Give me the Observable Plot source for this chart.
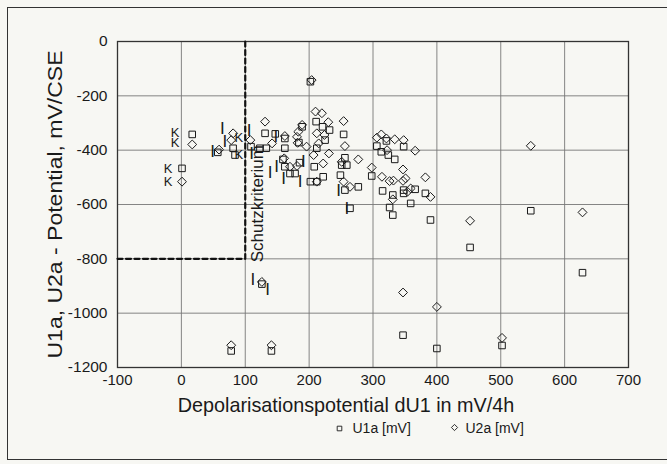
<!DOCTYPE html>
<html>
<head>
<meta charset="utf-8">
<script src="https://cdn.jsdelivr.net/npm/d3@7"></script>
<script src="https://cdn.jsdelivr.net/npm/@observablehq/plot@0.6"></script>
<style>
  html, body { margin: 0; padding: 0; background: #f7f7f3; }
  #wrap { position: relative; width: 667px; height: 464px; overflow: hidden; }
  #border { position: absolute; left: 7px; top: 7px; width: 700px; height: 453px;
            border: 1.5px solid #333; box-sizing: border-box; pointer-events: none; }
  svg { display: block; }
</style>
</head>
<body>
<div id="wrap"><div id="border"></div></div>
<script>
// ---- data ----
const xTicks = [-100, 0, 100, 200, 300, 400, 500, 600, 700];
const yTicks = [0, -200, -400, -600, -800, -1000, -1200];

// U1a [mV] (squares)
const u1aX = [17, 1, 57, 81, 84, 109, 131, 123, 133, 162, 162, 159, 162, 170, 178, 185, 184, 189, 202, 202,
              212, 208, 212, 211, 221, 232, 225, 222, 254, 256, 251, 259, 249, 256, 277, 264, 298, 306, 313, 321,
              324, 334, 348, 315, 331, 326, 331, 348, 348, 359, 366, 382, 390, 347, 400, 452, 502, 547, 628, 78,
              141, 126, 147];
const u1aY = [-342, -467, -408, -393, -418, -387, -338, -393, -393, -357, -393, -434, -461, -486, -486, -446, -372, -314, -148, -516,
              -516, -461, -393, -295, -314, -326, -363, -498, -342, -428, -455, -455, -492, -547, -535, -614, -495, -385, -406, -366,
              -418, -434, -387, -550, -565, -611, -639, -547, -559, -596, -544, -559, -657, -1081, -1130, -758, -1119, -623, -851, -1139,
              -1139, -893, -340];

// U2a [mV] (diamonds)
const u2aX = [17, 1, 81, 78, 59, 108, 131, 142, 162, 161, 170, 181, 182, 183, 189, 196, 204, 212, 207, 215,
              210, 220, 212, 230, 222, 231, 224, 254, 256, 251, 254, 264, 277, 298, 306, 313, 321, 322, 334, 348,
              366, 314, 326, 332, 331, 347, 351, 347, 354, 359, 382, 390, 347, 400, 452, 502, 547, 628, 78, 141,
              126, 181];
const u2aY = [-379, -516, -338, -363, -398, -363, -295, -375, -348, -430, -461, -458, -373, -332, -307, -387, -142, -516, -418, -375,
              -258, -264, -338, -297, -449, -412, -344, -293, -385, -443, -516, -535, -434, -464, -354, -342, -357, -400, -360, -363,
              -402, -498, -514, -512, -581, -471, -504, -513, -553, -541, -500, -572, -924, -977, -660, -1091, -384, -629, -1118, -1118,
              -885, -351];

// "K" annotations
const kX = [-10, -10, -21, -21, 90, 90];
const kY = [-337, -374, -470, -517, -355, -418];

// "I" annotations
const iX = [64, 49, 68, 106, 110, 148, 149, 139, 160, 186, 191, 246, 259, 112, 135];
const iY = [-320, -406, -369, -326, -412, -351, -461, -481, -504, -516, -443, -547, -614, -876, -913];

// Schutzkriterium boundary
const schutzX = [-100, 100, 100];
const schutzY = [-800, -800, 0];
const schutzLabel = [{x: 120, y: -597, text: "Schutzkriterium"}];

const xTitle = "Depolarisationspotential dU1 in mV/4h";
const yTitle = "U1a, U2a - Potential, mV/CSE";
const legendNames = ["U1a [mV]", "U2a [mV]"];

// ---- chart ----
const FONT = "'Liberation Sans', Arial, Helvetica, sans-serif";
const ink = "#1a1a1a";
const fmt = d => String(d);

const chart = Plot.plot({
  width: 667,
  height: 464,
  marginLeft: 117,
  marginRight: 39,
  marginTop: 41,
  marginBottom: 97,
  style: { fontFamily: FONT, background: "transparent", color: ink },
  x: { domain: [-100, 700] },
  y: { domain: [-1200, 0] },
  marks: [
    Plot.gridX(xTicks, { stroke: "#777", strokeOpacity: 1, strokeWidth: 0.9 }),
    Plot.gridY(yTicks, { stroke: "#777", strokeOpacity: 1, strokeWidth: 0.9 }),
    Plot.frame({ stroke: "#333", strokeWidth: 1.3 }),
    Plot.axisX(xTicks, { tickSize: 0, tickPadding: 7, fontSize: 15, label: null, fill: ink, tickFormat: fmt }),
    Plot.axisY(yTicks, { tickSize: 0, tickPadding: 10, fontSize: 15.5, label: null, fill: ink, tickFormat: fmt }),
    Plot.line(schutzX.map((x, i) => ({ x, y: schutzY[i] })), {
      x: "x", y: "y", stroke: "#111", strokeWidth: 2.2, strokeDasharray: "5,3.5"
    }),
    Plot.text(schutzLabel, { x: "x", y: "y", text: "text", rotate: -90, fontSize: 17, fill: ink }),
    Plot.dot(u1aX.map((x, i) => ({ x, y: u1aY[i] })), {
      x: "x", y: "y", symbol: "square", r: 3.7, fill: "none", stroke: ink, strokeWidth: 1
    }),
    Plot.dot(u2aX.map((x, i) => ({ x, y: u2aY[i] })), {
      x: "x", y: "y", symbol: "diamond2", r: 4, fill: "none", stroke: ink, strokeWidth: 1
    }),
    Plot.text(kX.map((x, i) => ({ x, y: kY[i] })), { x: "x", y: "y", text: () => "K", fontSize: 13, fill: ink }),
    Plot.text(iX.map((x, i) => ({ x, y: iY[i] })), { x: "x", y: "y", text: () => "I", fontSize: 17, fill: ink }),
    // axis titles
    Plot.text([xTitle], { frameAnchor: "bottom", dx: -27, dy: 38, fontSize: 19.8, fill: ink, textAnchor: "middle", lineAnchor: "middle" }),
    Plot.text([yTitle], { frameAnchor: "left", dx: -62, rotate: -90, fontSize: 19.5, fill: ink, textAnchor: "middle", lineAnchor: "middle" }),
    // legend
    Plot.dot([legendNames[0]], { frameAnchor: "bottom-left", dx: 222, dy: 61, symbol: "square", r: 2.6, fill: "none", stroke: ink, strokeWidth: 0.9 }),
    Plot.text([legendNames[0]], { frameAnchor: "bottom-left", dx: 235, dy: 61, textAnchor: "start", fontSize: 14, fill: ink, lineAnchor: "middle" }),
    Plot.dot([legendNames[1]], { frameAnchor: "bottom-left", dx: 337, dy: 60, symbol: "diamond2", r: 2.8, fill: "none", stroke: ink, strokeWidth: 0.9 }),
    Plot.text([legendNames[1]], { frameAnchor: "bottom-left", dx: 348, dy: 61, textAnchor: "start", fontSize: 14, fill: ink, lineAnchor: "middle" })
  ]
});
// the scanned original is slightly stretched vertically: lengthen the rotated y title accordingly
d3.select(chart).selectAll("text").each(function () {
  if (this.textContent === yTitle) {
    const t = this.getAttribute("transform") || "";
    this.setAttribute("transform", t + " scale(1.18,1)");
  }
});
document.getElementById("wrap").prepend(chart);
</script>
</body>
</html>
